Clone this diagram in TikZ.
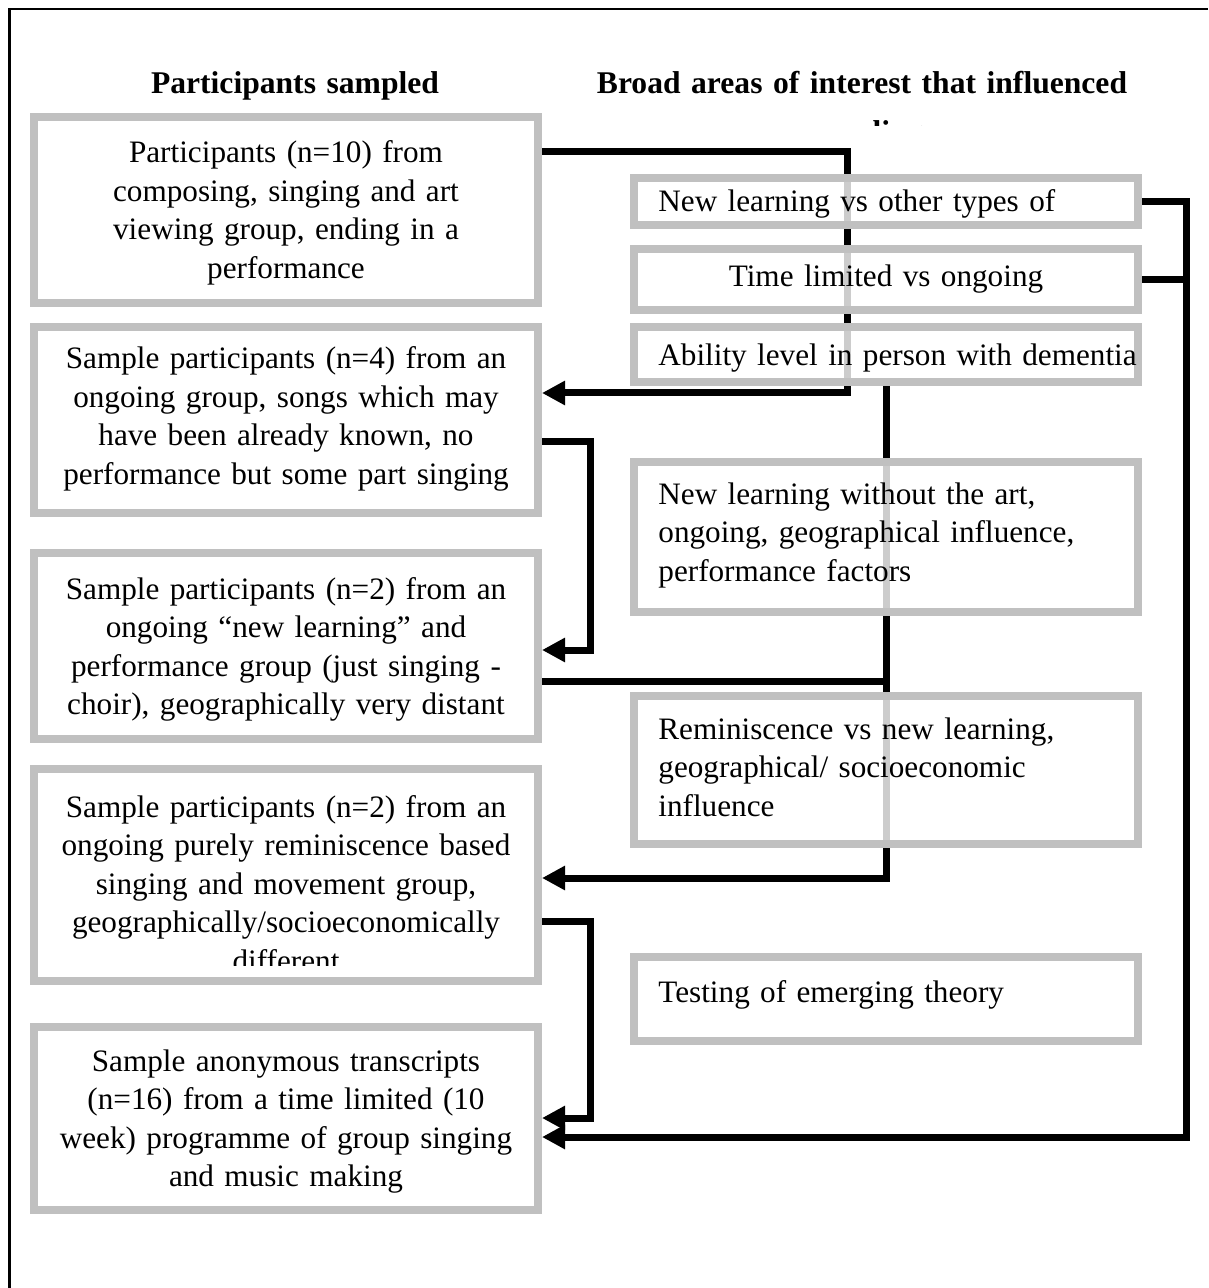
\documentclass[tikz,border=0pt]{standalone}
\usepackage{fontspec}
\setmainfont{Liberation Serif}
\usepackage{xcolor}
\usepackage{tikz}
\usetikzlibrary{arrows.meta}
\definecolor{boxgray}{RGB}{192,192,192}
\pgfdeclarelayer{bg}
\pgfsetlayers{bg,main}
\tikzset{
panel/.style={
draw=boxgray,
line width=4pt,
fill=white,
fill opacity=0.8,
minimum width=252pt,
inner sep=0pt
},
sampletext/.style={
align=center,
text width=250pt,
inner sep=0pt,
anchor=base,
font=\fontsize{15.6}{19.25}\selectfont
},
areatext/.style={
align=left,
text width=260pt,
inner sep=0pt,
anchor=base west,
font=\fontsize{15.6}{19.25}\selectfont
},
heading/.style={
align=center,
text width=290pt,
inner sep=0pt,
anchor=base,
font=\bfseries\fontsize{15.8}{24.5}\selectfont
},
link/.style={
line width=3.5pt
},
arrow/.style={
-{Triangle[length=11.5pt,width=11.5pt]},
line width=3.5pt
}
}

\begin{document}
\begin{tikzpicture}[x=0.5pt,y=-0.5pt]
\useasboundingbox (0,0) rectangle (1208,1288);
\draw[line width=1.3pt] (9.5,1288) |- (1208,9);

% headings
\node[heading] (hd1) at (295,94) {Participants sampled};
\begin{scope}
\clip (560,40) rectangle (1170,126);
\node[heading] (hd2) at (862,94) {Broad areas of interest that influenced\\sampling};
\end{scope}

% sampled groups
\node[panel,minimum height=93pt] (b1) at (286,210) {};
\node[panel,minimum height=93pt] (b2) at (286,420) {};
\node[panel,minimum height=93pt] (b3) at (286,646) {};
\node[panel,minimum height=106pt] (b4) at (286,875) {};
\node[panel,minimum height=91.5pt] (b5) at (286,1118.5) {};

\node[sampletext] (t1) at (286,163) {Participants (n=10) from\\composing, singing and art\\viewing group, ending in a\\performance};
\node[sampletext] (t2) at (286,369) {Sample participants (n=4) from an\\ongoing group, songs which may\\have been already known, no\\performance but some part singing};
\node[sampletext] (t3) at (286,599) {Sample participants (n=2) from an\\ongoing “new learning” and\\performance group (just singing -\\choir), geographically very distant};
\begin{scope}
\clip (40,780) rectangle (532,965);
\node[sampletext] (t4) at (286,817) {Sample participants (n=2) from an\\ongoing purely reminiscence based\\singing and movement group,\\geographically/socioeconomically\\different};
\end{scope}
\node[sampletext] (t5) at (286,1071) {Sample anonymous transcripts\\(n=16) from a time limited (10\\week) programme of group singing\\and music making};

% areas of interest
\node[panel,minimum height=23.5pt] (r1) at (886,201.5) {};
\node[panel,minimum height=30.5pt] (r2) at (886,279.5) {};
\node[panel,minimum height=27.5pt] (r3) at (886,354.5) {};
\node[panel,minimum height=75pt] (r4) at (886,537) {};
\node[panel,minimum height=74pt] (r5) at (886,770) {};
\node[panel,minimum height=42pt] (r6) at (886,999) {};

\node[areatext] (u1) at (658,212) {New learning vs other types of};
\node[sampletext] (u2) at (886,287) {Time limited vs ongoing};
\node[areatext] (u3) at (658,366) {Ability level in person with dementia};
\node[areatext] (u4) at (658,504) {New learning without the art,\\ongoing, geographical influence,\\performance factors};
\node[areatext] (u5) at (658,739) {Reminiscence vs new learning,\\geographical/ socioeconomic\\influence};
\node[areatext] (u6) at (658,1002) {Testing of emerging theory};

% connectors
\coordinate (ja) at (847,152);
\coordinate (jb) at (847,393);
\coordinate (jc) at (590,441);
\coordinate (jd) at (590,650);
\coordinate (je) at (886,681);
\coordinate (jf) at (886,878);
\coordinate (jg) at (590,921);
\coordinate (jh) at (590,1118);
\coordinate (ji) at (1186,1137);
\begin{pgfonlayer}{bg}
\draw[arrow] (b1.east |- ja) -| (jb) -- (b2.east |- jb);
\draw[arrow] (b2.east |- jc) -| (jd) -- (b3.east |- jd);
\draw[link] (b3.east |- je) -- (je);
\draw[arrow] (r3.south) -- (jf) -- (b4.east |- jf);
\draw[arrow] (b4.east |- jg) -| (jh) -- (b5.east |- jh);
\draw[arrow] (r1.east) -| (ji) -- (b5.east |- ji);
\draw[link] (r2.east) -- (r2.east -| ji);
\end{pgfonlayer}
\end{tikzpicture}
\end{document}
